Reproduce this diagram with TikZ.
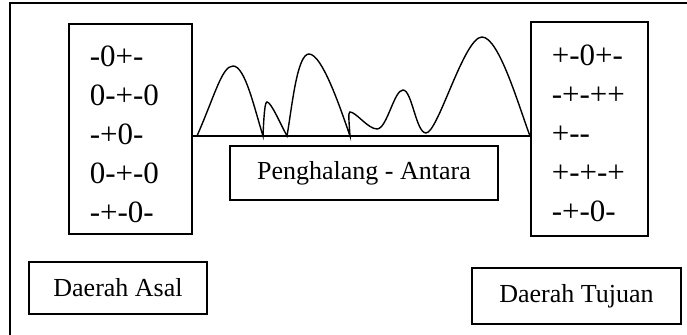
\documentclass[tikz,border=0pt]{standalone}
\usepackage{fontspec}
\setmainfont{Liberation Serif}
\usetikzlibrary{matrix}

\begin{document}
\begin{tikzpicture}[x=0.5pt,y=0.5pt,
  every node/.style={font=\fontsize{13}{15.6}\selectfont},
  kotak/.style={draw,line width=0.6pt,inner sep=0pt},
  kode/.style={matrix of nodes,inner sep=0pt,anchor=west,
    row sep={19.5pt,between origins},
    nodes={anchor=base west,inner sep=0pt,font=\fontsize{15.5}{18}\selectfont}},
]
\useasboundingbox (0,0) rectangle (687,335);
\draw[line width=1pt] (687,332) -- (10,332) -- (10,0);

\node[kotak,minimum width=61.5pt,minimum height=105pt] (asal) at (130.5,206) {};
\node[kotak,minimum width=58.5pt,minimum height=107pt] (tujuan) at (589.5,206) {};
\matrix[kode] (kodeasal) at ([xshift=10.5pt,yshift=-2.75pt]asal.west)
{
-0+- \\
0-+-0 \\
-+0- \\
0-+-0 \\
-+-0- \\
};
\matrix[kode] (kodetujuan) at ([xshift=10.5pt,yshift=-2pt]tujuan.west)
{
+-0+- \\
-+-++ \\
+-{}- \\
+-+-+ \\
-+-0- \\
};

\node[kotak,minimum width=134pt,minimum height=27pt] (penghalang) at (364,162) {Penghalang - Antara};
\node[kotak,minimum width=89pt,minimum height=26pt] (labelasal) at (118,47) {Daerah Asal};
\node[kotak,minimum width=104.5pt,minimum height=28pt] (labeltujuan) at (576.5,39) {Daerah Tujuan\hspace{5pt}};

\draw[line width=0.6pt]
  ([yshift=-3.5pt]asal.east) -- ([yshift=-3.5pt]tujuan.west);
\draw[line width=0.7pt]
  (197,199) .. controls (215,240) and (222,269) .. (233,269)
  .. controls (245,269) and (254,228) .. (263,199)
  .. controls (264,222) and (265,233) .. (267,233)
  .. controls (271,233) and (280,212) .. (287,199)
  .. controls (292,228) and (297,281) .. (309,281)
  .. controls (322,281) and (340,228) .. (350,199)
  .. controls (349,214) and (348,223) .. (350,223)
  .. controls (356,223) and (368,206) .. (377,206)
  .. controls (387,206) and (394,245) .. (403,245)
  .. controls (412,245) and (416,202) .. (426,202)
  .. controls (438,202) and (464,298) .. (482,298)
  .. controls (499,298) and (519,228) .. (530,199);
\end{tikzpicture}
\end{document}
